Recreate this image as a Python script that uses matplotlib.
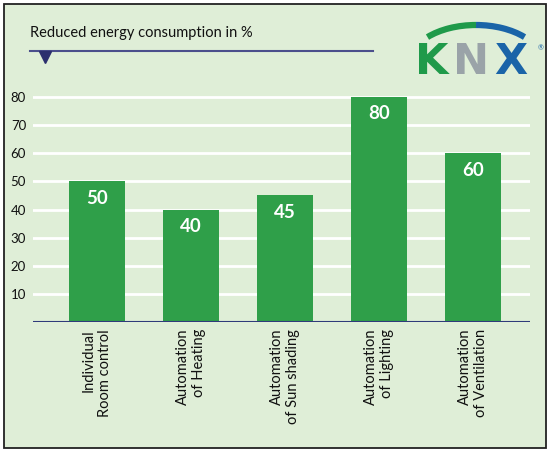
import matplotlib.pyplot as plt
from matplotlib.patches import Rectangle, Arc

plt.rcParams['font.family'] = ['Lato', 'DejaVu Sans']

categories = ["Individual\nRoom control", "Automation\nof Heating", "Automation\nof Sun shading",
              "Automation\nof Lighting", "Automation\nof Ventilation"]
savings = [50, 40, 45, 80, 60]
yticks = [10, 20, 30, 40, 50, 60, 70, 80]

bg = "#dfeed7"
bar_color = "#2f9f49"
navy = "#2c2f6e"

fig = plt.figure(figsize=(5.56, 4.54), dpi=100)

# decoration layer in pixel coordinates (y grows downwards)
deco = fig.add_axes([0, 0, 1, 1], zorder=0)
deco.set_xlim(0, 556)
deco.set_ylim(454, 0)
deco.axis("off")
deco.add_patch(Rectangle((4, 4), 542, 444, facecolor=bg, edgecolor="#222222", lw=1.3))
deco.text(30, 33, "Reduced energy consumption in %", fontsize=10.5, va="center", ha="left", color="#111111")
deco.plot([30, 373], [51, 51], color="#4b4f8c", lw=1.5)
deco.plot([45], [57], marker="v", markersize=8, color=navy)

# KNX logo
deco.add_patch(Arc((476, 64), 134, 78, theta1=209, theta2=270, color="#1f9a4a", lw=4.5))
deco.add_patch(Arc((476, 64), 134, 78, theta1=270, theta2=331, color="#1a64a8", lw=4.5))
logo_font = dict(fontsize=31, fontweight="bold", family="DejaVu Sans", ha="center", va="center")
deco.text(432, 62, "K", color="#1f9a4a", **logo_font)
deco.text(471, 62, "N", color="#9aa3a8", **logo_font)
deco.text(511, 62, "X", color="#1a64a8", **logo_font)
deco.text(541, 48, "®", fontsize=5, color="#1a64a8", ha="center", va="center")

ax = fig.add_axes([33 / 556, 132 / 454, 497 / 556, 239 / 454], zorder=1)
ax.set_facecolor("none")
x = list(range(len(categories)))
ax.bar(x, savings, width=0.6, color=bar_color, zorder=3)
for xi, v in zip(x, savings):
    ax.text(xi, v - 6, str(v), ha="center", va="center", color="white",
            fontsize=13.5, fontweight="bold", zorder=4)

ax.set_xlim(-0.68, 4.61)
ax.set_ylim(0, 85)
ax.set_yticks(yticks)
ax.set_yticklabels([str(t) for t in yticks], fontsize=9.5, color="#111111")
for t in yticks:
    ax.axhline(t, color="white", lw=2, zorder=1)
ax.axhline(0, color="#2f3a7a", lw=1.5, zorder=4)
ax.set_xticks(x)
ax.set_xticklabels(categories, rotation=90, fontsize=10.5, va="top", ha="center",
                   multialignment="right", color="#111111")
ax.tick_params(length=0, pad=5)
for s in ax.spines.values():
    s.set_visible(False)

fig.savefig("out.png", dpi=100)
